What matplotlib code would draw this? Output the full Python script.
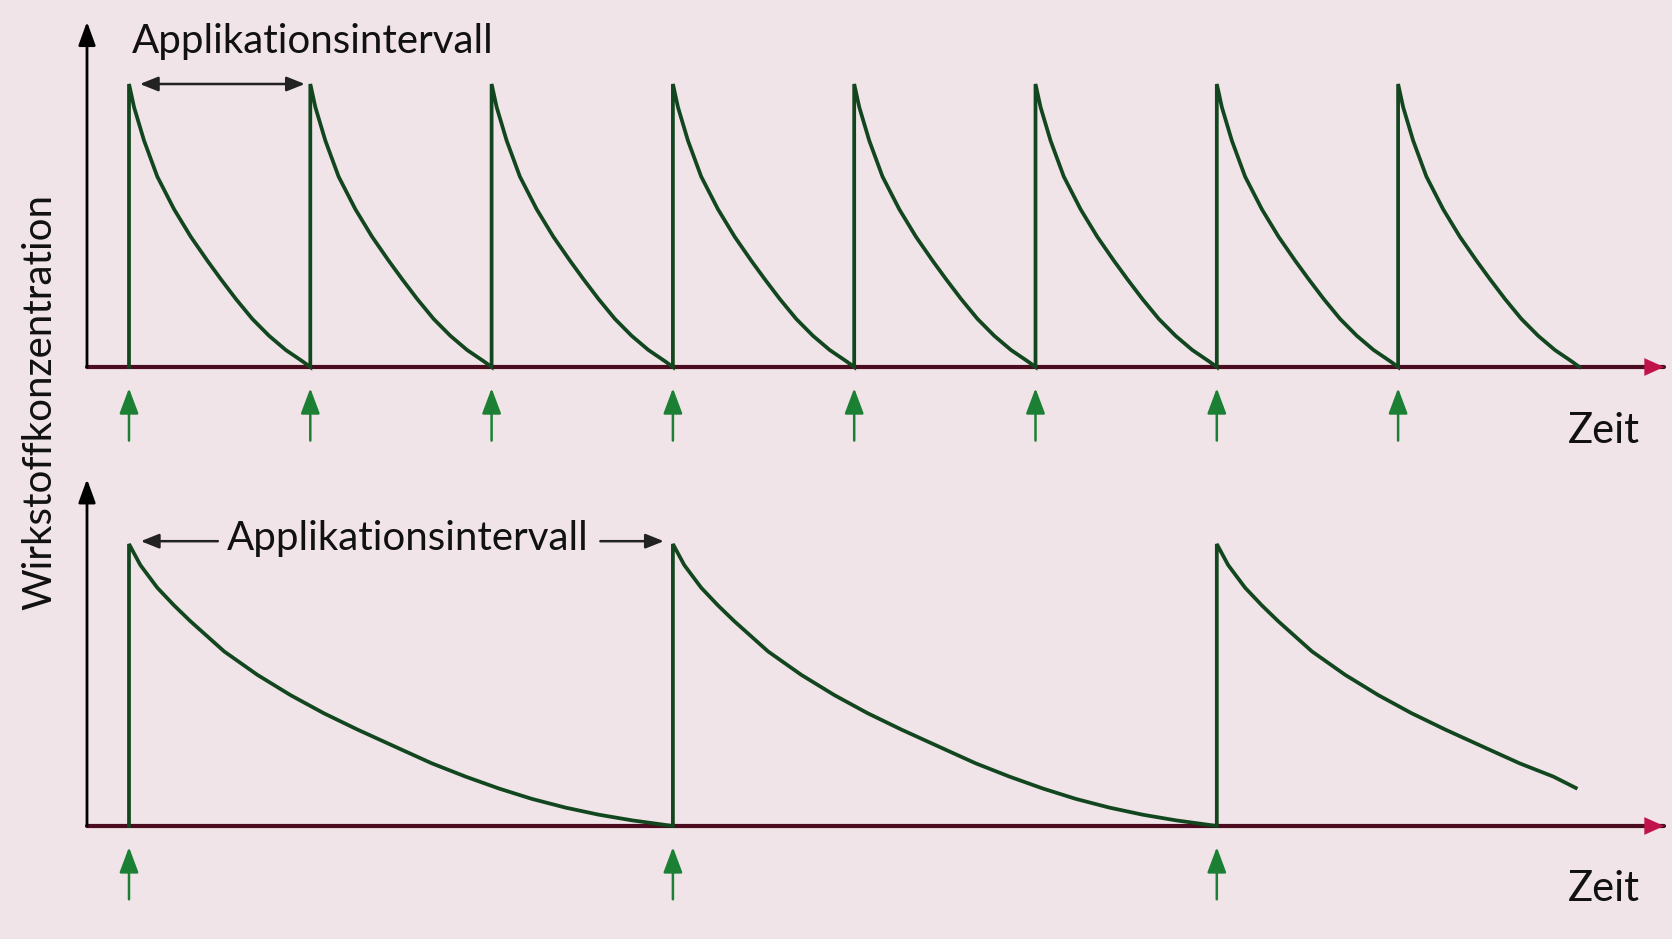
import matplotlib
matplotlib.use("Agg")
import matplotlib.pyplot as plt
import numpy as np

# one decay after a dose (t in fractions of the interval)
fast_t = [0, 0.028, 0.083, 0.156, 0.249, 0.341, 0.433, 0.507, 0.59, 0.68,
          0.773, 0.865, 0.957, 1.0]
fast_c = [1, 0.918, 0.80, 0.673, 0.557, 0.46, 0.375, 0.31, 0.24, 0.17,
          0.11, 0.06, 0.02, 0]

# one decay after a dose
slow_t = [0, 0.021, 0.052, 0.083, 0.113, 0.175, 0.236, 0.297, 0.358, 0.42,
          0.502, 0.557, 0.619, 0.68, 0.741, 0.803, 0.864, 0.925, 0.974, 1.0]
slow_c = [1, 0.925, 0.845, 0.782, 0.726, 0.619, 0.536, 0.464, 0.40, 0.342,
          0.27, 0.222, 0.175, 0.133, 0.096, 0.065, 0.04, 0.02, 0.007, 0]

top_doses = [0, 1, 2, 3, 4, 5, 6, 7]
top_interval = 1
bottom_doses = [0, 3, 6]
bottom_interval = 3
# last bottom curve stops early, here (fraction of interval, concentration)
bottom_last_end = (0.66, 0.135)

label_interval = "Applikationsintervall"
label_time = "Zeit"
label_conc = "Wirkstoffkonzentration"

bg = "#f0e4e8"
curve_col = "#12461f"
dose_col = "#1b8034"
axis_col = "#4a0c1e"
head_col = "#c0134a"
text_col = "#111111"
font = ["Lato", "DejaVu Sans"]

W, H = 1672, 939
fig = plt.figure(figsize=(W / 100, H / 100), dpi=100, facecolor=bg)

# pixel layout of the reference
x0_px, unit_px = 129, 181.3
split_px = 460
xlim = (-x0_px / unit_px, (W - x0_px) / unit_px)


def make_axes(top_px, bot_px, base_px, peak_px):
    ax = fig.add_axes([0, 1 - bot_px / H, 1, (bot_px - top_px) / H])
    ax.set_facecolor(bg)
    k = base_px - peak_px
    ax.set_xlim(*xlim)
    ax.set_ylim(-(bot_px - base_px) / k, (base_px - top_px) / k)
    ax.axis("off")
    return ax


ax1 = make_axes(0, split_px, 367, 84)
ax2 = make_axes(split_px, H, 826, 544)

y_axis_t = (87 - x0_px) / unit_px
x_end_t = (1664 - x0_px) / unit_px


def draw_panel(ax, doses, interval, shape_t, shape_c, last_end, arrow_top):
    xs, ys = [], []
    for i, d in enumerate(doses):
        xs += [d, d]
        ys += [0, 1]
        last = i == len(doses) - 1 and last_end is not None
        for t, c in zip(shape_t, shape_c):
            if last and t > last_end[0]:
                break
            xs.append(d + t * interval)
            ys.append(c)
        if last:
            xs.append(d + last_end[0] * interval)
            ys.append(last_end[1])
    ax.plot(xs, ys, color=curve_col, lw=2.7, solid_joinstyle="miter", zorder=3)

    # axes with arrows
    ax.annotate("", xy=(x_end_t, 0), xytext=(y_axis_t, 0),
                arrowprops=dict(arrowstyle="-", color=axis_col, lw=3.0,
                                shrinkA=0, shrinkB=0), zorder=2)
    ax.annotate("", xy=(x_end_t, 0), xytext=(x_end_t - 0.12, 0),
                arrowprops=dict(arrowstyle="-|>,head_length=1.0,head_width=0.45",
                                mutation_scale=14, color=head_col, lw=0.1,
                                shrinkA=0, shrinkB=0), zorder=4)
    ax.annotate("", xy=(y_axis_t, arrow_top), xytext=(y_axis_t, 0),
                arrowprops=dict(arrowstyle="-|>,head_length=1.1,head_width=0.4",
                                mutation_scale=13, color="black", lw=2.0,
                                shrinkA=0, shrinkB=0), zorder=4)

    # dose arrows
    for d in doses:
        ax.annotate("", xy=(d, -0.075), xytext=(d, -0.26),
                    arrowprops=dict(arrowstyle="-|>,head_length=1.2,head_width=0.45",
                                    mutation_scale=13, color=dose_col, lw=1.8,
                                    shrinkA=0, shrinkB=0), zorder=4)

    ax.text((1640 - x0_px) / unit_px, -0.225, label_time, ha="right", va="center",
            fontsize=30, family=font, color=text_col)


draw_panel(ax1, top_doses, top_interval, fast_t, fast_c, None, 1.22)
draw_panel(ax2, bottom_doses, bottom_interval, slow_t, slow_c, bottom_last_end, 1.23)

# interval labels
ax1.text((132 - x0_px) / unit_px, 1.15, label_interval, ha="left", va="center",
         fontsize=29, family=font, color=text_col)
ax1.annotate("", xy=(0.06, 1.0), xytext=(0.97, 1.0),
             arrowprops=dict(arrowstyle="<|-|>,head_length=1.0,head_width=0.4",
                             mutation_scale=11, color="#222222", lw=1.8,
                             shrinkA=0, shrinkB=0))

ax2.text((408 - x0_px) / unit_px, 1.02, label_interval, ha="center", va="center",
         fontsize=29, family=font, color=text_col)
ax2.annotate("", xy=(0.065, 1.01), xytext=(0.49, 1.01),
             arrowprops=dict(arrowstyle="-|>,head_length=1.0,head_width=0.4",
                             mutation_scale=11, color="#222222", lw=1.8,
                             shrinkA=0, shrinkB=0))
ax2.annotate("", xy=(2.95, 1.01), xytext=(2.60, 1.01),
             arrowprops=dict(arrowstyle="-|>,head_length=1.0,head_width=0.4",
                             mutation_scale=11, color="#222222", lw=1.8,
                             shrinkA=0, shrinkB=0))

fig.text(40 / W, 1 - 402 / H, label_conc, rotation=90, ha="center", va="center",
         fontsize=29, family=font, color=text_col)

fig.savefig("out.png", dpi=100, facecolor=bg)
